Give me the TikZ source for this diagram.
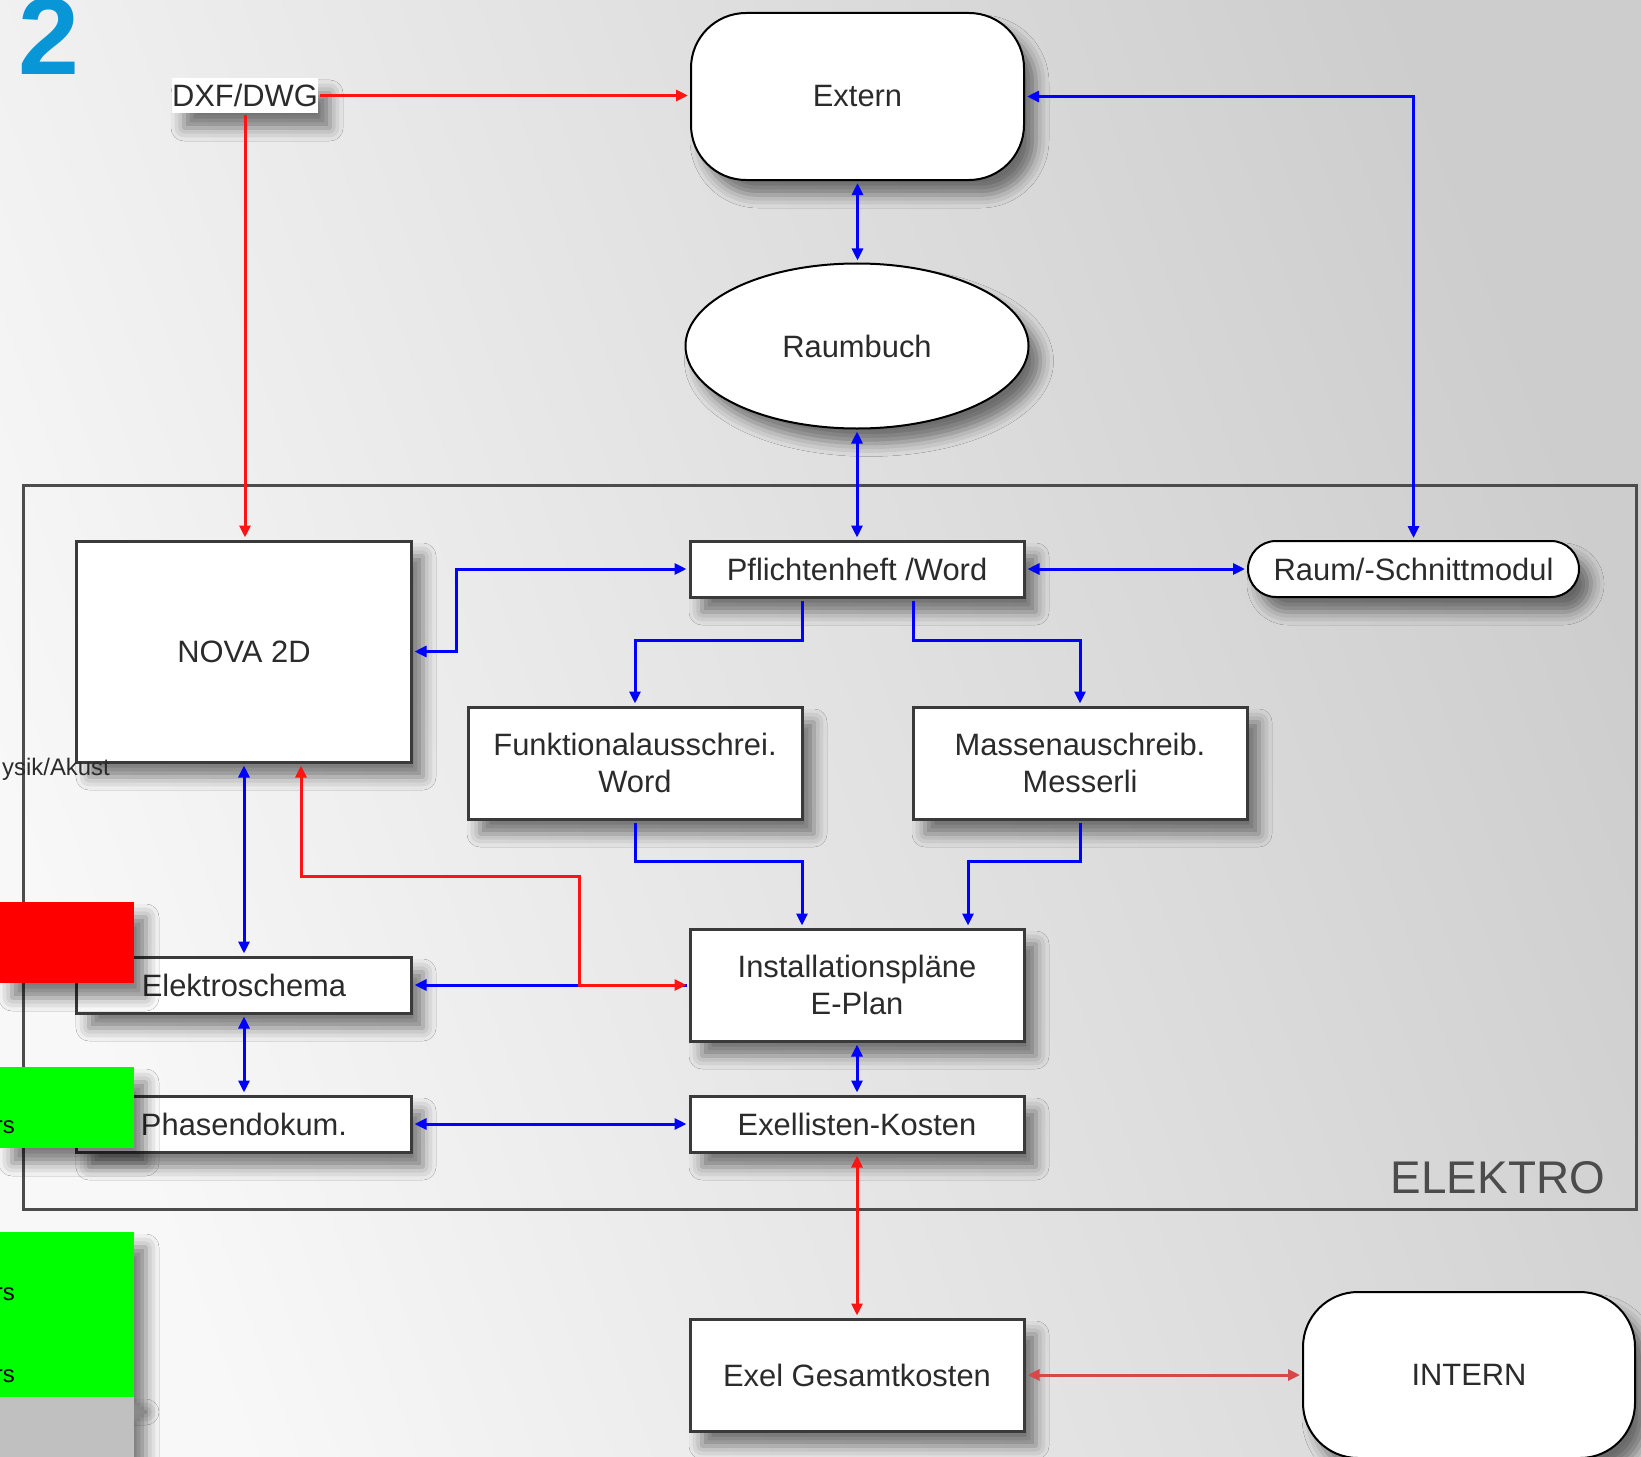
\documentclass[tikz,border=0pt]{standalone}
\usepackage{fontspec}
\setmainfont{Liberation Sans}
\usetikzlibrary{arrows.meta,shadows.blur,shapes.geometric}

\definecolor{boxline}{HTML}{3A3A3A}
\definecolor{boxtext}{HTML}{2B2B2B}
\definecolor{linkblue}{HTML}{0000FF}
\definecolor{linkred}{HTML}{FF1414}
\definecolor{linksoftred}{HTML}{D84848}
\definecolor{framegray}{HTML}{4C4C4C}
\definecolor{numblue}{HTML}{0896D6}
\definecolor{bgdark}{HTML}{CDCDCD}
\definecolor{bglight}{HTML}{F8F8F8}
\definecolor{blockgray}{HTML}{C0C0C0}

\begin{document}
\begin{tikzpicture}[x=1bp,y=-1bp,
  every node/.style={font=\fontsize{31}{37}\selectfont, text=boxtext},
  shadowed/.style={blur shadow={shadow xshift=12bp, shadow yshift=-15bp,
      shadow blur radius=13bp, shadow opacity=50}},
  box/.style={rectangle, draw=boxline, line width=3bp, fill=white,
      minimum width=334bp, inner sep=0pt, align=center, shadowed},
  soft/.style={rectangle, rounded corners=55bp, draw=black, line width=2bp,
      fill=white, inner sep=0pt, align=center, shadowed},
  pill/.style={rectangle, rounded corners=28bp, draw=black, line width=2bp,
      fill=white, inner sep=0pt, minimum width=331bp, minimum height=56bp, shadowed},
  oval/.style={ellipse, draw=black, line width=2bp, fill=white, inner sep=0pt,
      minimum width=343bp, minimum height=165bp, shadowed},
  tag/.style={rectangle, fill=white, inner sep=0pt, minimum width=146bp,
      minimum height=35bp, shadowed},
  >={Triangle[length=12bp,width=11bp]},
  bluelink/.style={draw=linkblue, line width=3bp, shorten <=2bp, shorten >=2bp},
  redlink/.style={draw=linkred, line width=3bp, shorten <=2bp, shorten >=2bp},
  softredlink/.style={draw=linksoftred, line width=3bp, shorten <=2bp, shorten >=2bp},
  sidetext/.style={font=\fontsize{24}{28}\selectfont, inner sep=0pt, anchor=base east},
]
\useasboundingbox (0,0) rectangle (1641,1457);

% background
\shade[top color=bgdark, bottom color=bglight, shading angle=-70]
  (0,0) rectangle (1641,1457);

% ELEKTRO area
\draw[framegray, line width=3bp] (23,485) rectangle (1636,1209);
\node[font=\fontsize{46}{50}\selectfont, text=framegray, inner sep=0pt,
      anchor=base east] (elektro) at (1605,1193) {ELEKTRO};

% heading number
\node[font=\fontsize{110}{110}\selectfont\bfseries, text=numblue, inner sep=0pt,
      anchor=base west] (num) at (18,75) {2};

% nodes
\node[tag] (dxf) at (245,95.5) {DXF/DWG};
\node[soft, minimum width=333bp, minimum height=167bp] (extern) at (857.5,96.5) {Extern};
\node[oval] (raumbuch) at (857,346) {Raumbuch};
\node[box, minimum height=56bp] (pf) at (857,569) {Pflichtenheft /Word};
\node[pill] (raum) at (1413.5,569) {Raum/-Schnittmodul};
\node[box, minimum height=221bp] (nova) at (244,651.5) {NOVA 2D};
\node[box, minimum height=112bp] (funk) at (635,763) {Funktionalausschrei.\\Word};
\node[box, minimum height=112bp] (massen) at (1080,763) {Massenauschreib.\\Messerli};
\node[box, minimum height=112bp] (inst) at (857,985) {Installationspläne\\E-Plan};
\node[box, minimum height=56bp] (elek) at (244,985) {Elektroschema};
\node[box, minimum height=56bp] (phasen) at (244,1124) {Phasendokum.};
\node[box, minimum height=56bp] (exl) at (857,1124) {Exellisten-Kosten};
\node[box, minimum height=112bp] (gesamt) at (857,1375) {Exel Gesamtkosten};
\node[soft, minimum width=332bp, minimum height=166bp] (intern) at (1469,1375) {INTERN};

% connectors
\draw[redlink,->] (dxf.east) -- (dxf.east -| extern.west);
\draw[redlink,->] (dxf.south) -- (dxf.south |- nova.north);
\draw[bluelink,<->] (extern.south) -- (extern.south |- raumbuch.north);
\draw[bluelink,<->] (extern.east) -| (raum.north);
\draw[bluelink,<->] (raumbuch.south) -- (pf.north);
\draw[bluelink,<->] (pf.east) -- (raum.west);
\draw[bluelink,<->] (pf.west) -| ([xshift=44bp]nova.east) -- (nova.east);
\draw[bluelink,->] ([xshift=-55bp]pf.south) -- ++(0,42) -| (funk.north);
\draw[bluelink,->] ([xshift=56bp]pf.south) -- ++(0,42) -| (massen.north);
\draw[bluelink,->] (funk.south) -- ++(0,41) -| ([xshift=-55bp]inst.north);
\draw[bluelink,->] (massen.south) -- ++(0,41) -| ([xshift=111bp]inst.north);
\draw[bluelink,<->] (nova.south) -- (elek.north);
\draw[bluelink,<->] (elek.south) -- (phasen.north);
\draw[bluelink,<->] (phasen.east) -- (exl.west);
\draw[bluelink,->] (inst.west) -- (elek.east);
\coordinate (split) at (579,985);
\draw[redlink,<->] ([xshift=57bp]nova.south) -- ++(0,113) -| (split) -- (inst.west);
\draw[bluelink,<->] (inst.south) -- (exl.north);
\draw[redlink,<->] (exl.south) -- (gesamt.north);
\draw[softredlink,<->] (gesamt.east) -- (intern.west);

% side markers at the left edge
\path[fill=red, shadowed] (0,902) rectangle (134,983);
\path[fill=green, shadowed] (0,1067) rectangle (134,1148);
\path[fill=green, shadowed] (0,1232) rectangle (134,1397);
\path[fill=blockgray, shadowed] (0,1397) rectangle (134,1470);
\node[sidetext, text=boxtext] (akust) at (110,775) {ysik/Akust};
\node[sidetext, text=black] (rsA) at (15,1133) {rs};
\node[sidetext, text=black] (rsB) at (15,1300) {rs};
\node[sidetext, text=black] (rsC) at (15,1382) {rs};
\end{tikzpicture}
\end{document}
